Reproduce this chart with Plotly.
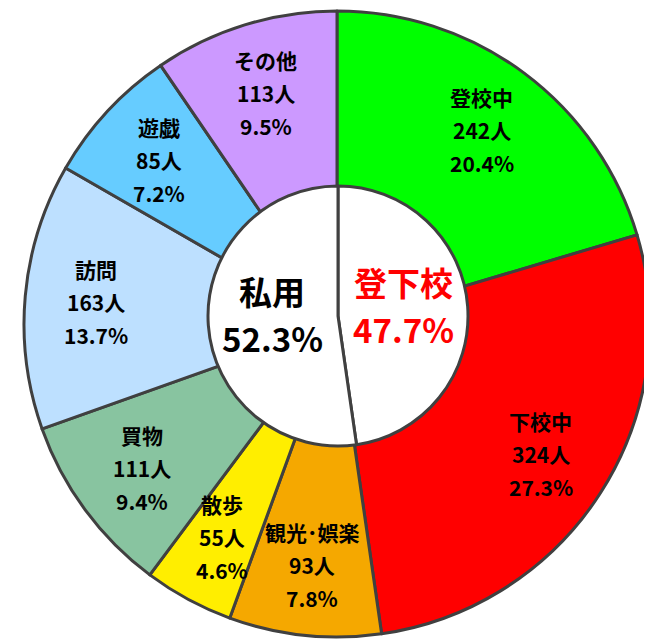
import math
import plotly.graph_objects as go

# ---- data ----
categories = ["登校中", "下校中", "観光･娯楽", "散歩", "買物", "訪問", "遊戯", "その他"]
counts = [242, 324, 93, 55, 111, 163, 85, 113]
groups = ["登下校", "登下校", "私用", "私用", "私用", "私用", "私用", "私用"]
group_names = ["登下校", "私用"]
colors = ["#00FF00", "#FF0000", "#F5A800", "#FFEE00", "#88C4A0", "#BDE0FF", "#66CCFF", "#CC99FF"]
group_text_colors = ["#FF0000", "#000000"]

total = sum(counts)
group_counts = [sum(c for c, g in zip(counts, groups) if g == name) for name in group_names]

# ---- layout geometry (pixels, page coordinates; the page body adds an 8px offset) ----
W, H = 652, 639
OFF = 8
OCX, OCY, OR = 337 - OFF, 324 - OFF, 313      # outer ring centre / radius
ICX, ICY, IR = 338 - OFF, 316 - OFF, 130      # inner pie centre / radius
LINE = "#404040"
FONT = "Noto Sans CJK JP, sans-serif"


def dom(cx, cy, r):
    return dict(x=[(cx - r) / W, (cx + r) / W], y=[1 - (cy + r) / H, 1 - (cy - r) / H])


fig = go.Figure()
fig.add_trace(go.Pie(
    labels=categories, values=counts, sort=False, direction="clockwise", rotation=0,
    hole=0.38, textinfo="none", hoverinfo="label+value+percent",
    marker=dict(colors=colors, line=dict(color=LINE, width=3)),
    domain=dom(OCX, OCY, OR), showlegend=False,
))
fig.add_trace(go.Pie(
    labels=group_names, values=group_counts, sort=False, direction="clockwise", rotation=0,
    textinfo="none", hoverinfo="label+value+percent",
    marker=dict(colors=["#FFFFFF", "#FFFFFF"], line=dict(color=LINE, width=3)),
    domain=dom(ICX, ICY, IR), showlegend=False,
))

annotations = []


def add_block(cx, cy, r, frac, lines, size, color, step, lift=0):
    th = 2 * math.pi * frac
    px = cx + r * math.sin(th)
    py = cy - r * math.cos(th) - lift
    n = len(lines)
    for i, t in enumerate(lines):
        annotations.append(dict(
            x=px / W, y=1 - py / H, xref="paper", yref="paper",
            text="<b>%s</b>" % t, showarrow=False, xanchor="center", yanchor="middle",
            yshift=((n - 1) / 2 - i) * step,
            font=dict(family=FONT, size=size, color=color),
        ))


cum = 0
for name, c in zip(categories, counts):
    frac = (cum + c / 2) / total
    add_block(OCX, OCY, 242, frac,
              [name, "%d人" % c, "%.1f%%" % (100 * c / total)], 21, "#000000", 33)
    cum += c

cum = 0
for name, c, col in zip(group_names, group_counts, group_text_colors):
    frac = (cum + c / 2) / total
    add_block(ICX, ICY, 66, frac, [name, "%.1f%%" % (100 * c / total)], 33, col, 47, lift=6)
    cum += c

fig.update_layout(
    width=W, height=H, margin=dict(l=0, r=0, t=0, b=0),
    paper_bgcolor="#FFFFFF", plot_bgcolor="#FFFFFF",
    annotations=annotations, showlegend=False,
)
fig.write_html("out.html")
